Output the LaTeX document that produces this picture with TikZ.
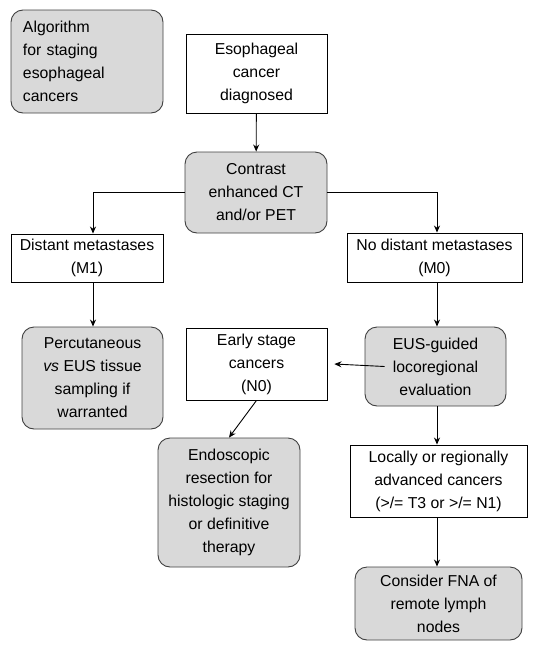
\documentclass[tikz,border=0pt]{standalone}
\usepackage{fontspec}
\setmainfont{Liberation Sans}
\usetikzlibrary{arrows.meta,calc}
\definecolor{boxgray}{HTML}{D9D9D9}
\definecolor{edgegray}{HTML}{404040}
\begin{document}
\begin{tikzpicture}[x=1pt,y=-1pt,
  base/.style={font=\fontsize{15.8}{23}\selectfont, align=center, inner sep=0pt, line width=0.9pt},
  plainbox/.style={base, draw=black, fill=white, rectangle},
  softbox/.style={base, draw=edgegray, fill=boxgray, rounded corners=12pt},
  conn/.style={line width=0.9pt, -{Stealth[length=7pt,width=6pt]}}]
\useasboundingbox (0,0) rectangle (538,651);
\node[softbox, minimum width=152pt, minimum height=103pt, text width=128pt, align=left] (algo) at (87,61.5) {Algorithm\\for staging\\esophageal\\cancers};
\node[plainbox, minimum width=141pt, minimum height=79pt] (esoph) at (256.5,73.5) {Esophageal\\cancer\\diagnosed};
\node[softbox, minimum width=142pt, minimum height=81pt] (contrast) at (256,192.5) {Contrast\\enhanced CT\\and/or PET};
\node[plainbox, minimum width=152pt, minimum height=48pt] (m1) at (87,258) {Distant metastases\\(M1)};
\node[plainbox, minimum width=175pt, minimum height=49pt] (m0) at (434.5,257.5) {No distant metastases\\(M0)};
\node[softbox, minimum width=141pt, minimum height=102pt] (perc) at (92.5,378) {Percutaneous\\\textit{vs} EUS tissue\\sampling if\\warranted};
\node[plainbox, minimum width=141pt, minimum height=72pt] (early) at (256.5,364) {Early stage\\cancers\\(N0)};
\node[softbox, minimum width=141pt, minimum height=79pt] (eus) at (435.5,366.5) {EUS-guided\\locoregional\\evaluation};
\node[softbox, minimum width=142pt, minimum height=129pt] (endo) at (229,502.5) {Endoscopic\\resection for\\histologic staging\\or definitive\\therapy};
\node[plainbox, minimum width=177pt, minimum height=72pt] (loc) at (438.5,481) {Locally or regionally\\advanced cancers\\(>/= T3 or >/= N1)};
\node[softbox, minimum width=167pt, minimum height=73pt] (cons) at (438.5,603.5) {Consider FNA of\\remote lymph\\nodes};
\coordinate (lj) at (93,192);
\coordinate (rj) at (437,192);
\draw[conn] (esoph) -- (contrast);
\draw[conn] (contrast.west |- lj) -- (lj) -- (lj |- m1.north);
\draw[conn] (contrast.east |- rj) -- (rj) -- (rj |- m0.north);
\draw[conn] (lj |- m1.south) -- (lj |- perc.north);
\draw[conn] (rj |- m0.south) -- (rj |- eus.north);
\draw[conn] ($(eus.west)+(20,0)$) -- ($(early.east)+(7,0)$);
\draw[conn] (early.south) -- (endo.north);
\draw[conn] (rj |- eus.south) -- (rj |- loc.north);
\draw[conn] (rj |- loc.south) -- (rj |- cons.north);
\end{tikzpicture}
\end{document}
